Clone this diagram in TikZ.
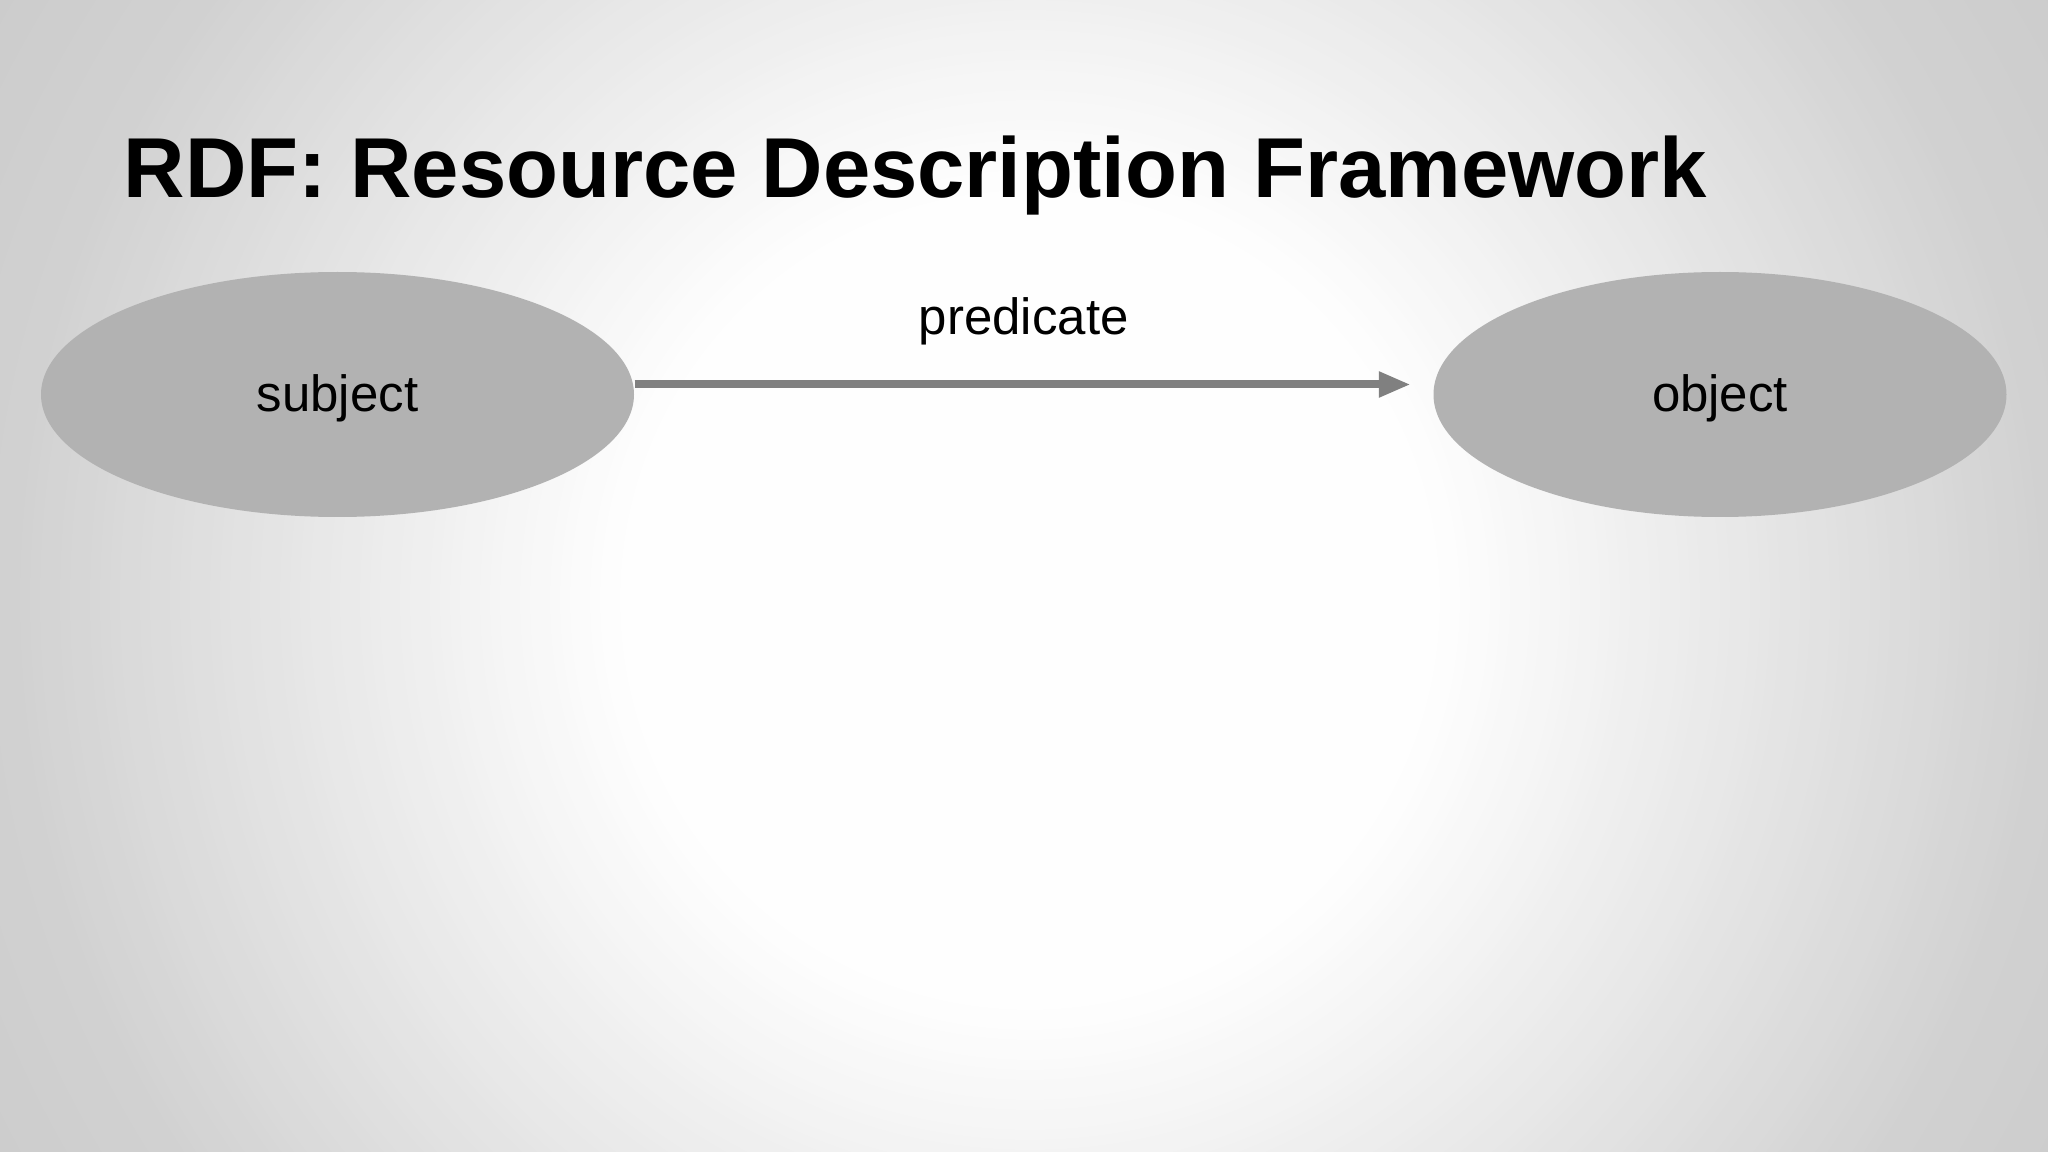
\documentclass[tikz,border=0pt]{standalone}
\usepackage{fontspec}
\setmainfont{Liberation Sans}
\usetikzlibrary{shapes.geometric, arrows.meta}

\definecolor{nodegray}{gray}{0.7}
\definecolor{arrowgray}{gray}{0.5}

\tikzset{
  resource/.style = {ellipse, fill = nodegray, minimum height = 2.45cm, inner sep = 0, text height = 4.6mm, text depth = 1.1mm},
  labeltext/.style = {font = \fontsize{14.5pt}{17pt}\selectfont},
  relation/.style = {-{Triangle[length = 3.2mm, width = 2.4mm]}, line width = 0.8mm, draw = arrowgray, shorten > = 2.2mm}
}

\begin{document}
\begin{tikzpicture}
                \useasboundingbox (0,0) rectangle (20.48,-11.52);
                % background, white in the middle and gray to the edges
                \begin{scope}
                    \clip (0,0) rectangle (20.48,-11.52);
                    \foreach \r in {12,11.9,...,4} {
                        \pgfmathsetmacro{\g}{min(1, \r > 10.24 ? 0.82 - 0.02*(\r - 10.24)/1.76 : 1 - 0.18*(\r - 4)/6.24)}
                        \definecolor{ring}{gray}{\g}
                        \fill[ring] (10.3,-6) circle (\r);
                    }
                \end{scope}
                \node[anchor = base west, inner sep = 0, font = \bfseries\fontsize{24.2pt}{29pt}\selectfont] (title) at (1.23,-1.98) {RDF: Resource Description Framework};
                \node[resource, labeltext, minimum width = 5.93cm] (subject) at (3.375,-3.945) {subject};
                \node[resource, labeltext, minimum width = 5.73cm] (object) at (17.2,-3.945) {object};
                \draw[relation] ([yshift = 1mm]subject.east) -- ([yshift = 1mm]object.west)
                    node[labeltext, midway, anchor = base, xshift = -1mm, yshift = 5mm] (predicate) {predicate};

            \end{tikzpicture}
\end{document}
